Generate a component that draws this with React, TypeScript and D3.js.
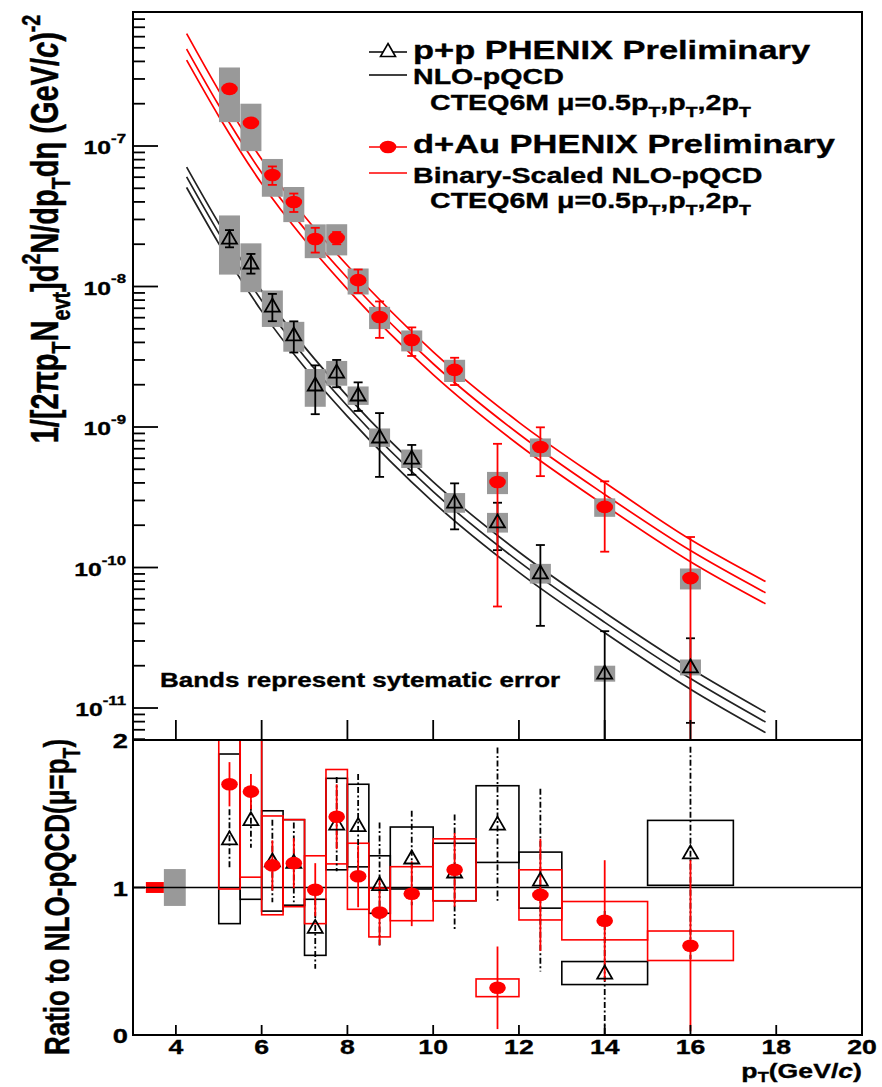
import React from 'react';
import * as d3 from 'd3';

// ---------------- data ----------------
const ptBins = [5.25, 5.75, 6.25, 6.75, 7.25, 7.75, 8.25, 8.75, 9.5, 10.5, 11.5, 12.5, 14, 16];
const binLo = [5, 5.5, 6, 6.5, 7, 7.5, 8, 8.5, 9, 10, 11, 12, 13, 15];
const binHi = [5.5, 6, 6.5, 7, 7.5, 8, 8.5, 9, 10, 11, 12, 13, 15, 17];

// invariant yields (top panel)
const ppYield = [2.21e-8, 1.47e-8, 7.26e-9, 4.52e-9, 1.99e-9, 2.46e-9, 1.69e-9, 8.49e-10, 6.01e-10, 2.92e-10, 2.11e-10, 9.15e-11, 1.77e-11, 1.96e-11];
const ppStatRel = [0.14, 0.16, 0.22, 0.25, 0.38, 0.22, 0.23, 0.48, 0.24, 0.36, 0.37, 0.58, 0.99, 0.6];
const ppSysRel = [0.45, 0.38, 0.29, 0.24, 0.3, 0.2, 0.15, 0.15, 0.15, 0.16, 0.16, 0.16, 0.13, 0.13];

const dAuYield = [2.55e-7, 1.46e-7, 6.22e-8, 3.99e-8, 2.18e-8, 2.22e-8, 1.11e-8, 6.07e-9, 4.16e-9, 2.55e-9, 4.06e-10, 7.21e-10, 2.7e-10, 8.41e-11];
const dAuStatRel = [0.05, 0.05, 0.15, 0.15, 0.2, 0.1, 0.19, 0.29, 0.23, 0.22, 0.87, 0.38, 0.52, 0.96];
const dAuSysRel = [0.42, 0.37, 0.3, 0.28, 0.27, 0.25, 0.21, 0.18, 0.17, 0.18, 0.18, 0.15, 0.15, 0.17];

// NLO pQCD curves (mu = 0.5pT, pT, 2pT)
const nloPt = [4.25, 5, 6, 7, 8, 10, 12, 14, 16, 17.75];
const ppNloHalf = [7.08e-8, 2.82e-8, 9.33e-9, 3.72e-9, 1.66e-9, 4.07e-10, 1.29e-10, 4.79e-11, 1.91e-11, 9.33e-12];
const ppNloOne = [6.03e-8, 2.4e-8, 7.94e-9, 3.16e-9, 1.41e-9, 3.47e-10, 1.1e-10, 4.07e-11, 1.62e-11, 7.94e-12];
const ppNloTwo = [5.07e-8, 2.02e-8, 6.68e-9, 2.66e-9, 1.19e-9, 2.92e-10, 9.23e-11, 3.43e-11, 1.36e-11, 6.68e-12];
const dAuNloHalf = [6.31e-7, 2.48e-7, 8.04e-8, 3.16e-8, 1.41e-8, 3.43e-9, 1.08e-9, 4.03e-10, 1.58e-10, 7.94e-11];
const dAuNloOne = [4.9e-7, 1.95e-7, 6.46e-8, 2.57e-8, 1.15e-8, 2.82e-9, 8.91e-10, 3.31e-10, 1.32e-10, 6.61e-11];
const dAuNloTwo = [4.09e-7, 1.63e-7, 5.4e-8, 2.15e-8, 9.59e-9, 2.36e-9, 7.45e-10, 2.77e-10, 1.1e-10, 5.52e-11];

// ratio to NLO (bottom panel)
const ppRatio = [1.33, 1.46, 1.18, 1.17, 0.73, 1.43, 1.42, 1.02, 1.2, 1.105, 1.43, 1.05, 0.42, 1.235];
const ppRatioStat = [0.2, 0.19, 0.28, 0.27, 0.28, 0.32, 0.35, 0.42, 0.32, 0.39, 0.52, 0.62, 0.42, 0.72];
const ppRatioSys = [0.575, 0.54, 0.34, 0.29, 0.19, 0.31, 0.28, 0.195, 0.21, 0.195, 0.26, 0.19, 0.078, 0.22];
const dAuRatio = [1.7, 1.65, 1.15, 1.165, 0.985, 1.48, 1.076, 0.83, 0.958, 1.12, 0.32, 0.95, 0.775, 0.605];
const dAuRatioStat = [0.15, 0.12, 0.17, 0.17, 0.18, 0.22, 0.21, 0.22, 0.22, 0.25, 0.28, 0.38, 0.41, 0.58];
const dAuRatioSys = [0.71, 0.58, 0.335, 0.295, 0.23, 0.32, 0.224, 0.165, 0.183, 0.21, 0.06, 0.17, 0.13, 0.1];

// normalisation uncertainties
const dAuNormErr = 0.037;
const ppNormErr = 0.125;

const xTicks = [4, 6, 8, 10, 12, 14, 16, 18, 20];
const yDecades = [-11, -10, -9, -8, -7];
const ratioTicks = [0, 1, 2];

// ---------------- helpers ----------------
type Part = { t: string; s?: 'sub' | 'sup'; it?: boolean; up?: number; sc?: number; dn?: number };

const FONT = "'Liberation Sans', Arial, Helvetica, sans-serif";

function Label(props: {
  x: number; y: number; fs: number; parts: Part[]; sx?: number;
  anchor?: 'start' | 'middle' | 'end'; rotate?: boolean; fill?: string;
}) {
  const { x, y, fs, parts, sx = 1.3, anchor = 'start', rotate = false, fill = '#000' } = props;
  const transform = rotate
    ? `translate(${x},${y}) scale(${sx},1) rotate(-90)`
    : `translate(${x},${y}) scale(${sx},1)`;
  let cur = 0;
  return (
    <text transform={transform} fontSize={fs} textAnchor={anchor} fontFamily={FONT}
      fontWeight="bold" fill={fill} stroke={fill} strokeWidth={0.35} style={{ whiteSpace: 'pre' }}>
      {parts.map((p, i) => {
        const target = p.s === 'sub' ? (p.dn ?? 0.3) * fs : p.s === 'sup' ? -(p.up ?? 0.45) * fs : 0;
        const dy = target - cur;
        cur = target;
        return (
          <tspan key={i} dy={dy} fontSize={p.s ? fs * (p.sc ?? 0.68) : fs}
            fontStyle={p.it ? 'italic' : undefined}>{p.t}</tspan>
        );
      })}
    </text>
  );
}

const tri = 'M0,-7.5 L7.5,5.5 L-7.5,5.5 Z';

export default function App() {
  const L = 133, R = 862, T = 12, M = 740, B = 1035;
  const RED = '#ff0000';
  const GRAY = '#999999';

  const x = d3.scaleLinear().domain([3, 20]).range([L, R]);
  const yT = d3.scaleLog().domain([5.92e-12, 8.99e-7]).range([M, T]);
  const yR = d3.scaleLinear().domain([0, 2]).range([B, M]);
  const yc = (v: number) => yT(Math.max(v, 1e-14));

  const curve = (vals: number[]) =>
    d3.line<number>().x((_, i) => x(nloPt[i])).y(d => yT(d)).curve(d3.curveMonotoneX)(vals) || '';

  // log ticks
  const logTicks: { v: number; major: boolean }[] = [];
  for (let e = -12; e <= -7; e++) {
    for (let k = 1; k <= 9; k++) {
      const v = k * Math.pow(10, e);
      const yy = yT(v);
      if (yy <= M + 0.5 && yy >= T - 0.5) logTicks.push({ v, major: k === 1 });
    }
  }

  const capW = 4.5;

  return (
    <svg width={882} height={1087} style={{ position: 'absolute', left: 0, top: 0, background: '#fff' }}
      xmlns="http://www.w3.org/2000/svg">
      <defs>
        <clipPath id="clipTop"><rect x={L} y={T} width={R - L} height={M - T} /></clipPath>
        <clipPath id="clipBot"><rect x={L} y={M} width={R - L} height={B - M} /></clipPath>
      </defs>
      <rect x={0} y={0} width={882} height={1087} fill="#fff" />

      {/* ---------- top panel ---------- */}
      <g clipPath="url(#clipTop)">
        {[ppNloHalf, ppNloOne, ppNloTwo].map((c, i) => (
          <path key={'pc' + i} d={curve(c)} fill="none" stroke="#222" strokeWidth={1.7} />
        ))}
        {[dAuNloHalf, dAuNloOne, dAuNloTwo].map((c, i) => (
          <path key={'dc' + i} d={curve(c)} fill="none" stroke={RED} strokeWidth={1.7} />
        ))}
        {ptBins.map((pt, i) => (
          <rect key={'pb' + i} x={x(pt) - 10.5} width={21}
            y={yc(ppYield[i] * (1 + ppSysRel[i]))}
            height={yc(ppYield[i] * (1 - ppSysRel[i])) - yc(ppYield[i] * (1 + ppSysRel[i]))}
            fill={GRAY} />
        ))}
        {ptBins.map((pt, i) => (
          <rect key={'db' + i} x={x(pt) - 10.5} width={21}
            y={yc(dAuYield[i] * (1 + dAuSysRel[i]))}
            height={yc(dAuYield[i] * (1 - dAuSysRel[i])) - yc(dAuYield[i] * (1 + dAuSysRel[i]))}
            fill={GRAY} />
        ))}
        {ptBins.map((pt, i) => {
          const y1 = yc(ppYield[i] * (1 + ppStatRel[i]));
          const y2 = yc(ppYield[i] * (1 - ppStatRel[i]));
          const xx = x(pt);
          return (
            <g key={'pe' + i} stroke="#000" strokeWidth={1.8}>
              <line x1={xx} x2={xx} y1={y1} y2={y2} />
              <line x1={xx - capW} x2={xx + capW} y1={y1} y2={y1} />
              <line x1={xx - capW} x2={xx + capW} y1={y2} y2={y2} />
            </g>
          );
        })}
        {ptBins.map((pt, i) => {
          const y1 = yc(dAuYield[i] * (1 + dAuStatRel[i]));
          const y2 = yc(dAuYield[i] * (1 - dAuStatRel[i]));
          const xx = x(pt);
          return (
            <g key={'de' + i} stroke={RED} strokeWidth={1.8}>
              <line x1={xx} x2={xx} y1={y1} y2={y2} />
              <line x1={xx - capW} x2={xx + capW} y1={y1} y2={y1} />
              <line x1={xx - capW} x2={xx + capW} y1={y2} y2={y2} />
            </g>
          );
        })}
        {ptBins.map((pt, i) => (
          <path key={'pm' + i} d={tri} transform={`translate(${x(pt)},${yT(ppYield[i])})`}
            fill="none" stroke="#000" strokeWidth={1.8} />
        ))}
        {ptBins.map((pt, i) => (
          <ellipse key={'dm' + i} cx={x(pt)} cy={yT(dAuYield[i])} rx={8.3} ry={6.3} fill={RED} />
        ))}
      </g>

      {/* top panel frame & ticks */}
      <rect x={L} y={T} width={R - L} height={M - T} fill="none" stroke="#000" strokeWidth={2} />
      {logTicks.map((t, i) => (
        <line key={'lt' + i} x1={L} x2={L + (t.major ? 25 : 12)} y1={yT(t.v)} y2={yT(t.v)}
          stroke="#000" strokeWidth={1.8} />
      ))}
      {xTicks.filter(t => t < 20).map(t => (
        <line key={'tx' + t} x1={x(t)} x2={x(t)} y1={M} y2={M - 20} stroke="#000" strokeWidth={1.8} />
      ))}
      {yDecades.map(e => (
        <Label key={'yl' + e} x={126} y={yT(Math.pow(10, e)) + 8} fs={19} anchor="end"
          parts={[{ t: '10' }, { t: '-' + Math.abs(e), s: 'sup', up: 0.58, sc: 0.68 }]} />
      ))}

      {/* legend */}
      <line x1={369} x2={407} y1={52} y2={52} stroke="#000" strokeWidth={1.6} />
      <path d={tri} transform="translate(388,51)" fill="#fff" stroke="#000" strokeWidth={1.6} />
      <Label x={413} y={59} fs={26.5} parts={[{ t: 'p+p PHENIX Preliminary' }]} />
      <line x1={369} x2={407} y1={75} y2={75} stroke="#000" strokeWidth={1.6} />
      <Label x={413} y={84} fs={22} parts={[{ t: 'NLO-pQCD' }]} />
      <Label x={430} y={110} fs={22} parts={[
        { t: 'CTEQ6M μ=0.5p' }, { t: 'T', s: 'sub' }, { t: ',p' }, { t: 'T', s: 'sub' },
        { t: ',2p' }, { t: 'T', s: 'sub' }]} />
      <line x1={369} x2={407} y1={147} y2={147} stroke={RED} strokeWidth={1.6} />
      <ellipse cx={388} cy={147} rx={8.3} ry={6.3} fill={RED} />
      <Label x={413} y={153} fs={26.5} parts={[{ t: 'd+Au PHENIX Preliminary' }]} />
      <line x1={369} x2={407} y1={173} y2={173} stroke={RED} strokeWidth={1.6} />
      <Label x={413} y={183} fs={22} parts={[{ t: 'Binary-Scaled NLO-pQCD' }]} />
      <Label x={430} y={208} fs={22} parts={[
        { t: 'CTEQ6M μ=0.5p' }, { t: 'T', s: 'sub' }, { t: ',p' }, { t: 'T', s: 'sub' },
        { t: ',2p' }, { t: 'T', s: 'sub' }]} />

      <Label x={160} y={687} fs={20} parts={[{ t: 'Bands represent sytematic error' }]} />

      {/* top y title */}
      <Label x={58} y={229} fs={29} sx={1.35} anchor="middle" rotate parts={[
        { t: '1/[2πp' }, { t: 'T', s: 'sub' }, { t: 'N' }, { t: 'evt', s: 'sub' },
        { t: ']d' }, { t: '2', s: 'sup' }, { t: 'N/dp' }, { t: 'T', s: 'sub' },
        { t: 'dη (GeV/' }, { t: 'c', it: true }, { t: ')' }, { t: '-2', s: 'sup' }]} />

      {/* ---------- bottom panel ---------- */}
      <g clipPath="url(#clipBot)">
        <rect x={x(3.3)} width={x(3.72) - x(3.3)} y={yR(1 + dAuNormErr)}
          height={yR(1 - dAuNormErr) - yR(1 + dAuNormErr)} fill={RED} />
        <rect x={x(3.72)} width={x(4.23) - x(3.72)} y={yR(1 + ppNormErr)}
          height={yR(1 - ppNormErr) - yR(1 + ppNormErr)} fill={GRAY} />
        <line x1={L} x2={R} y1={yR(1)} y2={yR(1)} stroke="#000" strokeWidth={1.6} />
        {ptBins.map((_, i) => (
          <rect key={'pr' + i} x={x(binLo[i])} width={x(binHi[i]) - x(binLo[i])}
            y={yR(ppRatio[i] + ppRatioSys[i])} height={yR(ppRatio[i] - ppRatioSys[i]) - yR(ppRatio[i] + ppRatioSys[i])}
            fill="none" stroke="#000" strokeWidth={1.6} />
        ))}
        {ptBins.map((_, i) => (
          <rect key={'dr' + i} x={x(binLo[i])} width={x(binHi[i]) - x(binLo[i])}
            y={yR(dAuRatio[i] + dAuRatioSys[i])} height={yR(dAuRatio[i] - dAuRatioSys[i]) - yR(dAuRatio[i] + dAuRatioSys[i])}
            fill="none" stroke={RED} strokeWidth={1.6} />
        ))}
        {ptBins.map((pt, i) => (
          <line key={'ps' + i} x1={x(pt)} x2={x(pt)} y1={yR(ppRatio[i] + ppRatioStat[i])}
            y2={yR(ppRatio[i] - ppRatioStat[i])} stroke="#000" strokeWidth={1.8} strokeDasharray="6,2.5,2,2.5" />
        ))}
        {ptBins.map((pt, i) => (
          <line key={'ds' + i} x1={x(pt)} x2={x(pt)} y1={yR(dAuRatio[i] + dAuRatioStat[i])}
            y2={yR(dAuRatio[i] - dAuRatioStat[i])} stroke={RED} strokeWidth={1.8} />
        ))}
        {ptBins.map((pt, i) => (
          <path key={'pt' + i} d={tri} transform={`translate(${x(pt)},${yR(ppRatio[i])})`}
            fill="none" stroke="#000" strokeWidth={1.8} />
        ))}
        {ptBins.map((pt, i) => (
          <ellipse key={'dt' + i} cx={x(pt)} cy={yR(dAuRatio[i])} rx={8.3} ry={6.3} fill={RED} />
        ))}
      </g>
      <rect x={L} y={M} width={R - L} height={B - M} fill="none" stroke="#000" strokeWidth={2} />
      {xTicks.filter(t => t < 20).map(t => (
        <line key={'bx' + t} x1={x(t)} x2={x(t)} y1={B} y2={B - 10} stroke="#000" strokeWidth={1.8} />
      ))}
      {ratioTicks.map(t => (
        <line key={'ry' + t} x1={L} x2={L + 12} y1={yR(t)} y2={yR(t)} stroke="#000" strokeWidth={1.8} />
      ))}
      {ratioTicks.map(t => (
        <Label key={'rl' + t} x={128} y={yR(t) + 8} fs={21} anchor="end" parts={[{ t: String(t) }]} />
      ))}
      {xTicks.map(t => (
        <Label key={'xl' + t} x={x(t)} y={1054} fs={20.5} anchor="middle" parts={[{ t: String(t) }]} />
      ))}
      <Label x={862} y={1078} fs={20.5} anchor="end" parts={[
        { t: 'p' }, { t: 'T', s: 'sub', dn: 0.18 }, { t: '(GeV/' }, { t: 'c', it: true }, { t: ')' }]} />
      <Label x={69} y={897} fs={26} sx={1.35} anchor="middle" rotate parts={[
        { t: 'Ratio to NLO-pQCD(μ=p' }, { t: 'T', s: 'sub' }, { t: ')' }]} />
    </svg>
  );
}
